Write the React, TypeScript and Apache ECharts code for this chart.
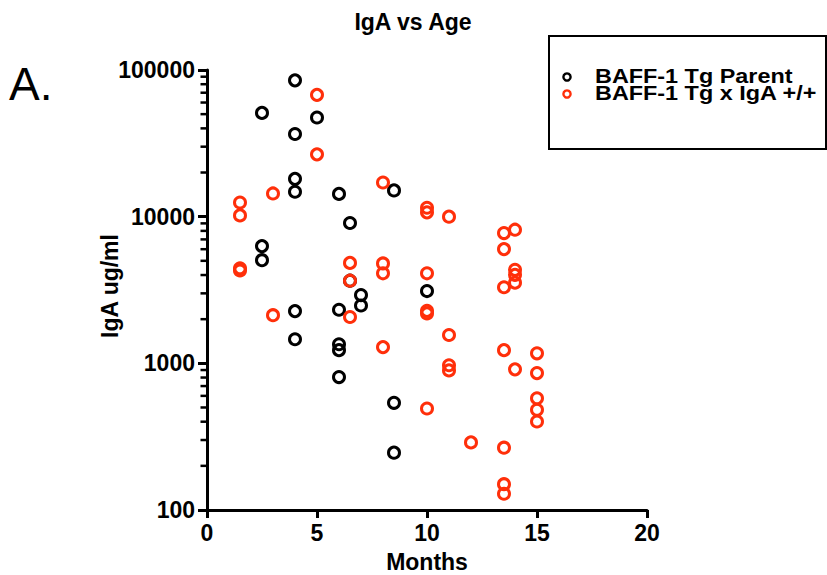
import React, { useEffect, useRef } from "react";
import * as echarts from "echarts";

// ---- data (months, IgA ug/ml) ----
const parentMonths = [2.5, 2.5, 2.5, 4, 4, 4, 4, 4, 4, 5, 6, 6, 6, 6, 6, 6.5, 6.5, 7, 7, 8.5, 8.5, 8.5, 10];
const parentIgA = [51000, 6300, 5050, 85000, 36600, 18100, 14800, 2270, 1460, 47400, 14300, 2320, 1350, 1230, 806, 9050, 3660, 2920, 2480, 15100, 538, 246, 3110];

const crossMonths = [
  1.5, 1.5, 1.5, 1.5, 3, 3, 5, 5, 6.5, 6.5, 6.5, 8, 8, 8, 8,
  10, 10, 10, 10, 10, 10, 11, 11, 11, 11, 12,
  13.5, 13.5, 13.5, 13.5, 13.5, 13.5, 13.5, 14, 14, 14, 14, 14,
  15, 15, 15, 15, 15,
];
const crossIgA = [
  12500, 10200, 4450, 4300, 14400, 2130, 67700, 26600, 4840, 3660, 2070, 17100, 4800, 4110, 1290,
  11500, 10700, 4110, 2280, 2190, 492, 10000, 1560, 970, 895, 289,
  7730, 6010, 3300, 1230, 266, 150, 129, 8150, 4340, 4010, 3550, 910,
  1170, 858, 578, 482, 401,
];

const seriesNames = ["BAFF-1 Tg Parent", "BAFF-1 Tg x IgA +/+"];
const minorTickValues = [
  200, 300, 400, 500, 600, 700, 800, 900,
  2000, 3000, 4000, 5000, 6000, 7000, 8000, 9000,
  20000, 30000, 40000, 50000, 60000, 70000, 80000, 90000,
];

const BLACK = "#000000";
const RED = "#ff2f0a";
const FONT = "'Liberation Sans', Arial, sans-serif";

export default function App() {
  const ref = useRef<HTMLDivElement>(null);

  useEffect(() => {
    if (!ref.current) return;
    const chart = echarts.init(ref.current, null, { renderer: "svg" });

    const pairs = (xs: number[], ys: number[]) => xs.map((x, i) => [x, ys[i]]);

    const option: any = {
      animation: false,
      backgroundColor: "#ffffff",
      textStyle: { fontFamily: FONT },
      grid: { left: 207, right: 180, top: 70, bottom: 65, containLabel: false },
      xAxis: {
        type: "value",
        min: 0,
        max: 20,
        interval: 5,
        splitLine: { show: false },
        axisLine: { lineStyle: { color: BLACK, width: 3 } },
        axisTick: { show: true, length: 8, lineStyle: { color: BLACK, width: 3 } },
        axisLabel: { color: BLACK, fontSize: 23, fontWeight: "bold", fontFamily: FONT, margin: 11 },
      },
      yAxis: {
        type: "log",
        logBase: 10,
        min: 100,
        max: 100000,
        splitLine: { show: false },
        axisLine: { show: true, lineStyle: { color: BLACK, width: 3 } },
        axisTick: { show: true, length: 9, lineStyle: { color: BLACK, width: 3 } },
        axisLabel: {
          color: BLACK,
          fontSize: 23,
          fontWeight: "bold",
          fontFamily: FONT,
          margin: 12,
          formatter: (v: number) => String(Math.round(v)),
        },
      },
      series: [
        {
          type: "custom",
          name: "minorTicks",
          silent: true,
          clip: false,
          z: 5,
          data: minorTickValues.map((v) => [0, v]),
          encode: { x: 0, y: 1 },
          renderItem: (params: any, api: any) => {
            const p = api.coord([0, api.value(1)]);
            return {
              type: "line",
              shape: { x1: p[0] - 6.5, y1: p[1], x2: p[0], y2: p[1] },
              style: { stroke: BLACK, lineWidth: 2.5 },
            };
          },
        },
        {
          type: "scatter",
          name: seriesNames[0],
          symbol: "circle",
          symbolSize: 11,
          itemStyle: { color: "transparent", borderColor: BLACK, borderWidth: 3, opacity: 1 },
          data: pairs(parentMonths, parentIgA),
          z: 3,
        },
        {
          type: "scatter",
          name: seriesNames[1],
          symbol: "circle",
          symbolSize: 11,
          itemStyle: { color: "transparent", borderColor: RED, borderWidth: 3, opacity: 1 },
          data: pairs(crossMonths, crossIgA),
          z: 4,
        },
      ],
      graphic: [
        {
          type: "text",
          x: 413,
          y: 22,
          style: {
            text: "IgA vs Age",
            font: `bold 23px ${FONT}`,
            fill: BLACK,
            align: "center",
            textAlign: "center",
            verticalAlign: "middle",
            textVerticalAlign: "middle",
          },
        },
        {
          type: "text",
          x: 9,
          y: 84,
          style: {
            text: "A.",
            font: `normal 46px ${FONT}`,
            fill: BLACK,
            align: "left",
            textAlign: "left",
            verticalAlign: "middle",
            textVerticalAlign: "middle",
          },
        },
        {
          type: "text",
          x: 427,
          y: 562,
          style: {
            text: "Months",
            font: `bold 23px ${FONT}`,
            fill: BLACK,
            align: "center",
            textAlign: "center",
            verticalAlign: "middle",
            textVerticalAlign: "middle",
          },
        },
        {
          type: "text",
          x: 110,
          y: 286,
          rotation: Math.PI / 2,
          style: {
            text: "IgA ug/ml",
            font: `bold 23px ${FONT}`,
            fill: BLACK,
            align: "center",
            textAlign: "center",
            verticalAlign: "middle",
            textVerticalAlign: "middle",
          },
        },
        {
          type: "rect",
          shape: { x: 549, y: 36, width: 277, height: 113 },
          style: { fill: "#ffffff", stroke: BLACK, lineWidth: 2 },
          z: 1,
        },
        {
          type: "circle",
          shape: { cx: 567, cy: 77, r: 3.6 },
          style: { fill: "none", stroke: BLACK, lineWidth: 2.4 },
          z: 2,
        },
        {
          type: "circle",
          shape: { cx: 567, cy: 94, r: 3.6 },
          style: { fill: "none", stroke: RED, lineWidth: 2.4 },
          z: 2,
        },
        {
          type: "text",
          x: 595,
          y: 76,
          scaleX: 1.17,
          z: 2,
          style: {
            text: seriesNames[0],
            font: `bold 20px ${FONT}`,
            fill: BLACK,
            align: "left",
            textAlign: "left",
            verticalAlign: "middle",
            textVerticalAlign: "middle",
          },
        },
        {
          type: "text",
          x: 595,
          y: 93.5,
          scaleX: 1.17,
          z: 2,
          style: {
            text: seriesNames[1],
            font: `bold 20px ${FONT}`,
            fill: BLACK,
            align: "left",
            textAlign: "left",
            verticalAlign: "middle",
            textVerticalAlign: "middle",
          },
        },
      ],
    };

    chart.setOption(option);
    return () => {
      chart.dispose();
    };
  }, []);

  return (
    <div
      ref={ref}
      style={{ position: "fixed", left: 0, top: 0, width: 827, height: 575, background: "#fff" }}
    />
  );
}
